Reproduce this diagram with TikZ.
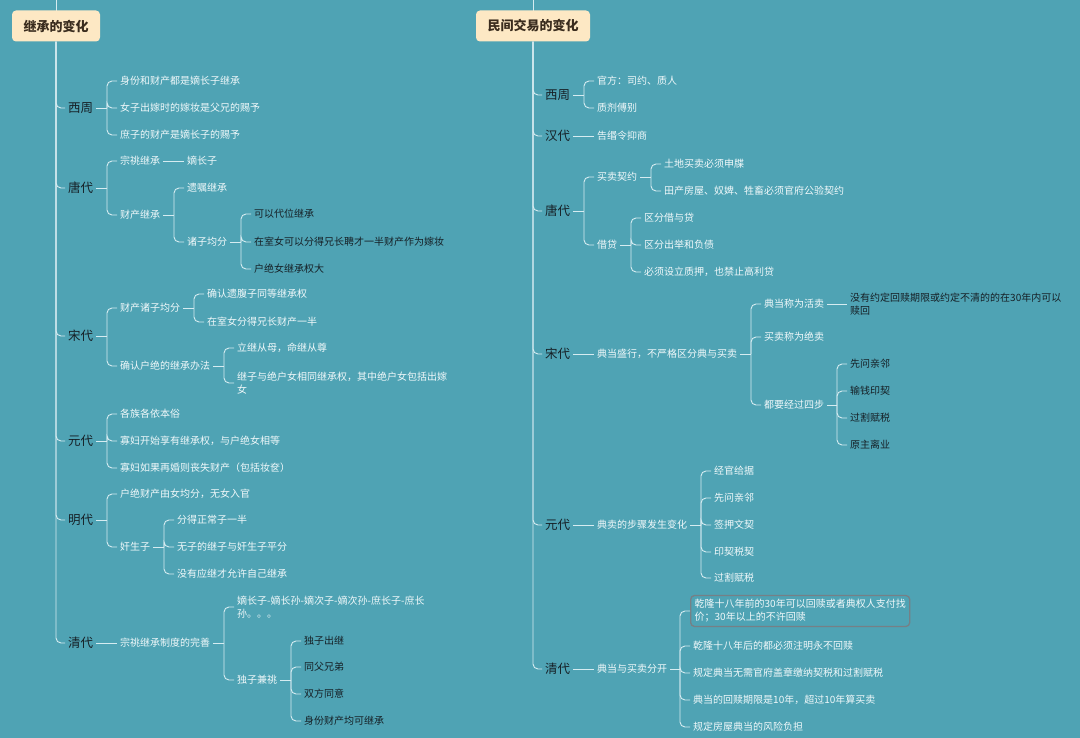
\documentclass[tikz,border=0pt]{standalone}
\usepackage{fontspec}
\setmainfont{Noto Sans CJK SC}
\usepackage{tikz}
\usetikzlibrary{calc}

\definecolor{bgteal}{RGB}{79,163,180}
\definecolor{linecol}{RGB}{214,236,241}
\definecolor{leaftext}{RGB}{240,248,250}
\definecolor{darktext}{RGB}{22,32,38}
\definecolor{rootfill}{RGB}{253,232,196}
\definecolor{roottext}{RGB}{58,44,30}
\definecolor{hiline}{RGB}{118,128,134}

\begin{document}
\begin{tikzpicture}[x=1pt,y=-1pt,
    link/.style={draw=linecol,line width=0.9pt,rounded corners=5pt},
    root/.style={fill=rootfill,text=roottext,rounded corners=4pt,inner xsep=11.5pt,
        minimum height=31pt,font=\fontsize{13}{15}\selectfont\bfseries},
    era/.style={anchor=west,inner sep=3pt,text=darktext,font=\fontsize{12.5}{15}\selectfont},
    leaf/.style={anchor=west,inner sep=3pt,text=leaftext,align=left,font=\fontsize{10}{13}\selectfont},
    dleaf/.style={leaf,text=darktext},
    hilite/.style={leaf,draw=hiline,line width=1.3pt,rounded corners=4pt,inner sep=4pt}]
        % --- 1. Define Core Parameters ---
        \def\brgap{10pt}

        % --- 2. Background ---
        \fill[bgteal] (0,0) rectangle (1080,738);
        \useasboundingbox (0,0) rectangle (1080,738);
        \coordinate (topL) at (56,0);
        \coordinate (topR) at (533,0);

        % --- 3. Left tree: inheritance ---
        \draw[link] (topL) -- (56,20);
        \node[root] (rootL) at (56,26) {继承的变化};

        \node[era] (xzL) at (65,108) {西周};
        \node[era] (tdL) at (65,188) {唐代};
        \node[era] (sdL) at (65,336) {宋代};
        \node[era] (ydL) at (65,441) {元代};
        \node[era] (mdL) at (65,520) {明代};
        \node[era] (qdL) at (65,643) {清代};

        % Xizhou
        \node[leaf] (a1) at (117,81) {身份和财产都是嫡长子继承};
        \node[leaf] (a2) at (117,108) {女子出嫁时的嫁妆是父兄的赐予};
        \node[leaf] (a3) at (117,135) {庶子的财产是嫡长子的赐予};

        % Tang
        \node[leaf] (b1) at (117,161) {宗祧继承};
        \node[leaf] (b1a) at (184,161) {嫡长子};
        \node[leaf] (b2) at (117,215) {财产继承};
        \node[leaf] (b2a) at (184,188) {遗嘱继承};
        \node[leaf] (b2b) at (184,242) {诸子均分};
        \node[dleaf] (b2b1) at (251,214) {可以代位继承};
        \node[dleaf] (b2b2) at (251,242) {在室女可以分得兄长聘才一半财产作为嫁妆};
        \node[dleaf] (b2b3) at (251,269) {户绝女继承权大};

        % Song
        \node[leaf] (c1) at (117,308) {财产诸子均分};
        \node[leaf] (c1a) at (204,294) {确认遗腹子同等继承权};
        \node[leaf] (c1b) at (204,322) {在室女分得兄长财产一半};
        \node[leaf] (c2) at (117,366) {确认户绝的继承办法};
        \node[leaf] (c2a) at (234,348) {立继从母，命继从尊};
        \node[leaf] (c2b) at (234,383) {继子与绝户女相同继承权，其中绝户女包括出嫁\\女};

        % Yuan
        \node[leaf] (d1) at (117,414) {各族各依本俗};
        \node[leaf] (d2) at (117,441) {寡妇开始享有继承权，与户绝女相等};
        \node[leaf] (d3) at (117,468) {寡妇如果再婚则丧失财产（包括妆奁）};

        % Ming
        \node[leaf] (e1) at (117,494) {户绝财产由女均分，无女入官};
        \node[leaf] (e2) at (117,547) {奸生子};
        \node[leaf] (e2a) at (174,520) {分得正常子一半};
        \node[leaf] (e2b) at (174,547) {无子的继子与奸生子平分};
        \node[leaf] (e2c) at (174,574) {没有应继才允许自己继承};

        % Qing
        \node[leaf] (f1) at (117,643) {宗祧继承制度的完善};
        \node[leaf] (f1a) at (234,607) {嫡长子-嫡长孙-嫡次子-嫡次孙-庶长子-庶长\\孙。。。};
        \node[leaf] (f1b) at (234,680) {独子兼祧};
        \node[dleaf] (f1b1) at (301,641) {独子出继};
        \node[dleaf] (f1b2) at (301,667) {同父兄弟};
        \node[dleaf] (f1b3) at (301,694) {双方同意};
        \node[dleaf] (f1b4) at (301,721) {身份财产均可继承};

        % --- 4. Right tree: civil trade ---
        \draw[link] (topR) -- (533,20);
        \node[root] (rootR) at (533,26) {民间交易的变化};

        \node[era] (xzR) at (542,95) {西周};
        \node[era] (hdR) at (542,136) {汉代};
        \node[era] (tdR) at (542,211) {唐代};
        \node[era] (sdR) at (542,354) {宋代};
        \node[era] (ydR) at (542,525) {元代};
        \node[era] (qdR) at (542,669) {清代};

        % Xizhou and Han
        \node[leaf] (g1) at (594,81) {官方：司约、质人};
        \node[leaf] (g2) at (594,108) {质剂傅别};
        \node[leaf] (h1) at (594,136) {告缗令抑商};

        % Tang
        \node[leaf] (i1) at (594,177) {买卖契约};
        \node[leaf] (i1a) at (661,164) {土地买卖必须申牒};
        \node[leaf] (i1b) at (661,191) {田产房屋、奴婢、牲畜必须官府公验契约};
        \node[leaf] (i2) at (594,245) {借贷};
        \node[leaf] (i2a) at (641,218) {区分借与贷};
        \node[leaf] (i2b) at (641,245) {区分出举和负债};
        \node[leaf] (i2c) at (641,272) {必须设立质押，也禁止高利贷};

        % Song
        \node[leaf] (j1) at (594,354) {典当盛行，不严格区分典与买卖};
        \node[leaf] (j1a) at (761,304) {典当称为活卖};
        \node[dleaf] (j1a1) at (847,304) {没有约定回赎期限或约定不清的的在30年内可以\\赎回};
        \node[leaf] (j1b) at (761,337) {买卖称为绝卖};
        \node[leaf] (j1c) at (761,405) {都要经过四步};
        \node[dleaf] (j1c1) at (847,364) {先问亲邻};
        \node[dleaf] (j1c2) at (847,391) {输钱印契};
        \node[dleaf] (j1c3) at (847,418) {过割赋税};
        \node[dleaf] (j1c4) at (847,445) {原主离业};

        % Yuan
        \node[leaf] (k1) at (594,525) {典卖的步骤发生变化};
        \node[leaf] (k1a) at (711,471) {经官给据};
        \node[leaf] (k1b) at (711,498) {先问亲邻};
        \node[leaf] (k1c) at (711,525) {签押文契};
        \node[leaf] (k1d) at (711,552) {印契税契};
        \node[leaf] (k1e) at (711,578) {过割赋税};

        % Qing
        \node[leaf] (l1) at (594,669) {典当与买卖分开};
        \node[hilite] (l1a) at (690,611) {乾隆十八年前的30年可以回赎或者典权人支付找\\价；30年以上的不许回赎};
        \node[leaf] (l1b) at (690,646) {乾隆十八年后的都必须注明永不回赎};
        \node[leaf] (l1c) at (690,673) {规定典当无需官府盖章缴纳契税和过割赋税};
        \node[leaf] (l1d) at (690,700) {典当的回赎期限是10年，超过10年算买卖};
        \node[leaf] (l1e) at (690,727) {规定房屋典当的风险负担};

        % --- 5. Connectors ---
        % trunks
        \foreach \e in {xzL,tdL,sdL,ydL,mdL,qdL}
            \draw[link] (rootL.south) |- (\e.west);
        \foreach \e in {xzR,hdR,tdR,sdR,ydR,qdR}
            \draw[link] (rootR.south) |- (\e.west);

        % brackets: parent / children
        \foreach \p/\cs in {xzL/{a1,a2,a3}, tdL/{b1,b2}, b2/{b2a,b2b}, b2b/{b2b1,b2b2,b2b3},
                sdL/{c1,c2}, c1/{c1a,c1b}, c2/{c2a,c2b}, ydL/{d1,d2,d3}, mdL/{e1,e2},
                e2/{e2a,e2b,e2c}, f1/{f1a,f1b}, f1b/{f1b1,f1b2,f1b3,f1b4},
                xzR/{g1,g2}, tdR/{i1,i2}, i1/{i1a,i1b}, i2/{i2a,i2b,i2c},
                j1/{j1a,j1b,j1c}, j1c/{j1c1,j1c2,j1c3,j1c4},
                k1/{k1a,k1b,k1c,k1d,k1e}, l1/{l1a,l1b,l1c,l1d,l1e}}
            \foreach \c in \cs {
                \coordinate (bx) at ([xshift=-\brgap]\c.west);
                \draw[link] (\p.east) -- (bx |- \p.east);
                \draw[link] (bx |- \p.east) |- (\c.west);
            }

        % single lines
        \foreach \p/\c in {b1/b1a, qdL/f1, hdR/h1, sdR/j1, j1a/j1a1, ydR/k1, qdR/l1}
            \draw[link] (\p.east) -- (\c.west);

    \end{tikzpicture}
\end{document}
